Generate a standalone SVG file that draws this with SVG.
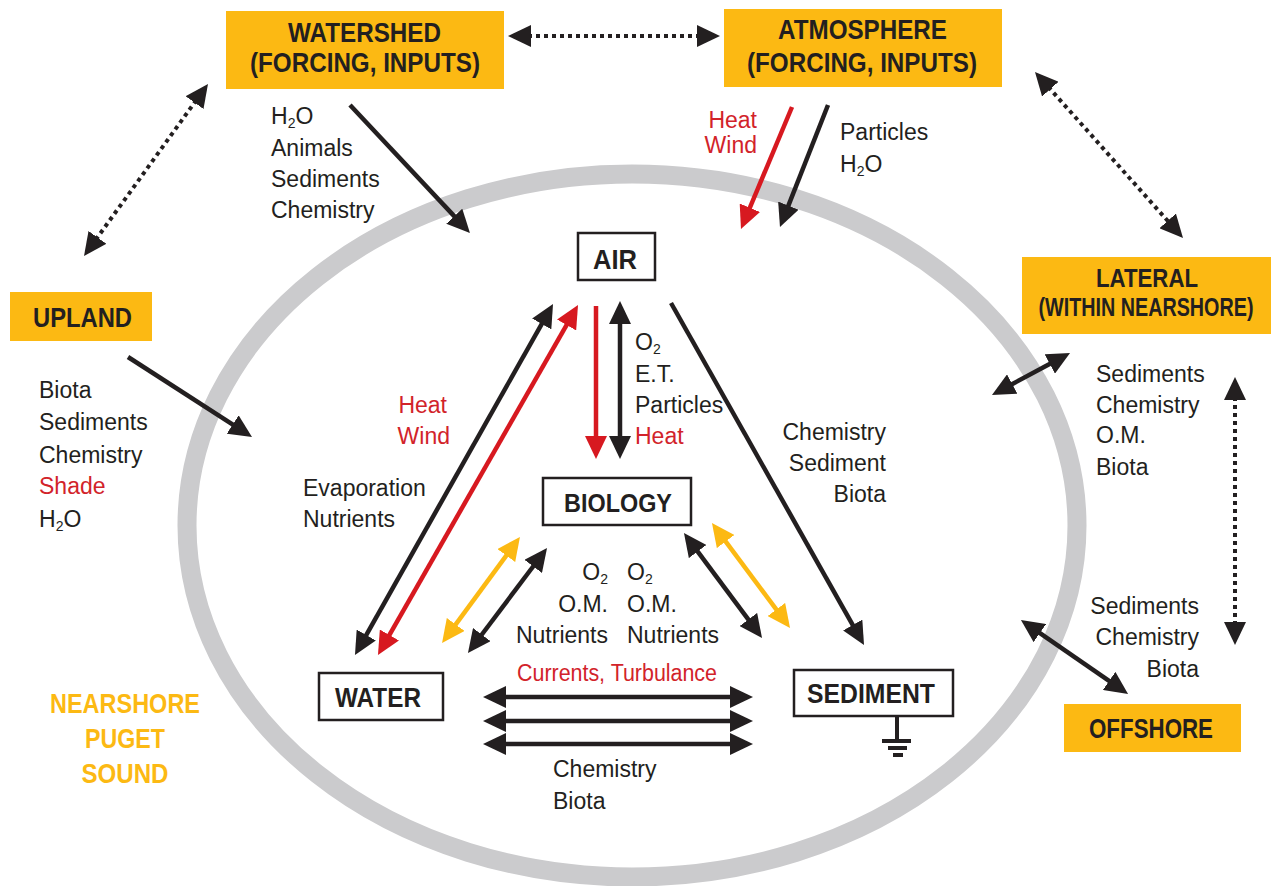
<svg xmlns="http://www.w3.org/2000/svg" width="1275" height="886" viewBox="0 0 1275 886">
<style>
.t{font-family:"Liberation Sans",Arial,sans-serif;font-size:23px;fill:#231f20}
.r{fill:#d2232a}
.hb{font-family:"Liberation Sans",Arial,sans-serif;font-weight:bold;fill:#231f20;text-anchor:start}
.ob{fill:#fcb913}
.wb{fill:#fff;stroke:#231f20;stroke-width:2.5}
.k{stroke:#231f20;stroke-width:4.5;fill:none}
.rd{stroke:#d71920;stroke-width:4.5;fill:none}
.y{stroke:#fcb913;stroke-width:4.5;fill:none}
.dot{stroke:#231f20;stroke-width:4;stroke-dasharray:4 4;fill:none}
.ns{font-family:"Liberation Sans",Arial,sans-serif;font-weight:bold;font-size:28px;fill:#fcb913}
</style>
<defs>
<marker id="hk" markerUnits="userSpaceOnUse" markerWidth="24" markerHeight="22" viewBox="0 0 24 22" refX="3" refY="11" orient="auto-start-reverse"><path d="M0,0 L23,11 L0,22 z" fill="#231f20"/></marker>
<marker id="hr" markerUnits="userSpaceOnUse" markerWidth="24" markerHeight="22" viewBox="0 0 24 22" refX="3" refY="11" orient="auto-start-reverse"><path d="M0,0 L23,11 L0,22 z" fill="#d71920"/></marker>
<marker id="hy" markerUnits="userSpaceOnUse" markerWidth="24" markerHeight="22" viewBox="0 0 24 22" refX="3" refY="11" orient="auto-start-reverse"><path d="M0,0 L23,11 L0,22 z" fill="#fcb913"/></marker>
</defs>
<rect width="1275" height="886" fill="#fff"/>
<ellipse id="boundary" cx="632" cy="525.5" rx="445" ry="351.5" fill="none" stroke="#cbcbcd" stroke-width="19"/>

<g id="connectors">
<line class="k" x1="350" y1="105" x2="456.3" y2="218.4" marker-end="url(#hk)"/>
<line class="rd" x1="792" y1="107" x2="748.7" y2="210.5" marker-end="url(#hr)"/>
<line class="k" x1="828" y1="105" x2="787.3" y2="208.4" marker-end="url(#hk)"/>
<line class="dot" x1="528" y1="36" x2="700" y2="36" marker-start="url(#hk)" marker-end="url(#hk)"/>
<line class="dot" x1="196.3" y1="100.2" x2="95.7" y2="239.8" marker-start="url(#hk)" marker-end="url(#hk)"/>
<line class="dot" x1="1048.3" y1="86.9" x2="1169.7" y2="223.1" marker-start="url(#hk)" marker-end="url(#hk)"/>
<line class="dot" x1="1235" y1="397" x2="1235" y2="625" marker-start="url(#hk)" marker-end="url(#hk)"/>
<line class="k" x1="1009.6" y1="385.5" x2="1052.4" y2="362.5" marker-start="url(#hk)" marker-end="url(#hk)"/>
<line class="k" x1="1037.4" y1="631.4" x2="1111.6" y2="682.6" marker-start="url(#hk)" marker-end="url(#hk)"/>
<line class="k" x1="128" y1="357" x2="235.2" y2="426.2" marker-end="url(#hk)"/>
<line class="rd" x1="596" y1="306" x2="596" y2="439" marker-end="url(#hr)"/>
<line class="k" x1="620" y1="321" x2="620" y2="439" marker-start="url(#hk)" marker-end="url(#hk)"/>
<line class="k" x1="364.8" y1="637.6" x2="543.2" y2="321.4" marker-start="url(#hk)" marker-end="url(#hk)"/>
<line class="rd" x1="387.9" y1="637.6" x2="568.1" y2="322.4" marker-start="url(#hr)" marker-end="url(#hr)"/>
<line class="k" x1="671" y1="303" x2="854.2" y2="627.6" marker-end="url(#hk)"/>
<line class="y" x1="453.9" y1="626.9" x2="508.1" y2="553.1" marker-start="url(#hy)" marker-end="url(#hy)"/>
<line class="k" x1="480" y1="637" x2="535" y2="564" marker-start="url(#hk)" marker-end="url(#hk)"/>
<line class="k" x1="695.9" y1="549.1" x2="750.1" y2="621.9" marker-start="url(#hk)" marker-end="url(#hk)"/>
<line class="y" x1="723.9" y1="539.1" x2="778.1" y2="611.9" marker-start="url(#hy)" marker-end="url(#hy)"/>
<line class="k" x1="503" y1="697" x2="733" y2="697" marker-start="url(#hk)" marker-end="url(#hk)"/>
<line class="k" x1="503" y1="721" x2="733" y2="721" marker-start="url(#hk)" marker-end="url(#hk)"/>
<line class="k" x1="503" y1="744" x2="733" y2="744" marker-start="url(#hk)" marker-end="url(#hk)"/>
</g>

<g id="watershed">
<rect class="ob" x="226" y="11" width="278" height="78"/>
<text class="hb" x="288" y="42" font-size="28" textLength="153" lengthAdjust="spacingAndGlyphs">WATERSHED</text>
<text class="hb" x="250" y="72" font-size="28" textLength="230" lengthAdjust="spacingAndGlyphs">(FORCING, INPUTS)</text>
</g>
<g id="atmosphere">
<rect class="ob" x="724" y="9" width="278" height="78"/>
<text class="hb" x="778" y="39" font-size="28" textLength="169" lengthAdjust="spacingAndGlyphs">ATMOSPHERE</text>
<text class="hb" x="747" y="72" font-size="28" textLength="230" lengthAdjust="spacingAndGlyphs">(FORCING, INPUTS)</text>
</g>
<g id="lateral">
<rect class="ob" x="1022" y="257" width="249" height="77"/>
<text class="hb" x="1096" y="287" font-size="26" textLength="102" lengthAdjust="spacingAndGlyphs">LATERAL</text>
<text class="hb" x="1146" y="316" font-size="25" style="text-anchor:middle" transform="translate(1146 0) scale(0.79 1) translate(-1146 0)">(WITHIN NEARSHORE)</text>
</g>
<g id="upland">
<rect class="ob" x="10" y="292" width="142" height="49"/>
<text class="hb" x="33" y="327" font-size="28" textLength="99" lengthAdjust="spacingAndGlyphs">UPLAND</text>
</g>
<g id="offshore">
<rect class="ob" x="1064" y="704" width="177" height="48"/>
<text class="hb" x="1089" y="738" font-size="28" textLength="124" lengthAdjust="spacingAndGlyphs">OFFSHORE</text>
</g>
<g id="air">
<rect class="wb" x="578" y="233" width="77" height="47"/>
<text class="hb" x="593" y="269" font-size="28" textLength="44" lengthAdjust="spacingAndGlyphs">AIR</text>
</g>
<g id="biology">
<rect class="wb" x="543" y="478" width="148" height="47"/>
<text class="hb" x="564" y="512" font-size="26" textLength="108" lengthAdjust="spacingAndGlyphs">BIOLOGY</text>
</g>
<g id="water">
<rect class="wb" x="319" y="673" width="124" height="47"/>
<text class="hb" x="335" y="707" font-size="27" textLength="86" lengthAdjust="spacingAndGlyphs">WATER</text>
</g>
<g id="sediment">
<rect class="wb" x="794" y="670" width="159" height="46"/>
<text class="hb" x="807" y="703" font-size="27" textLength="128" lengthAdjust="spacingAndGlyphs">SEDIMENT</text>
<line x1="897" y1="716" x2="897" y2="740" stroke="#231f20" stroke-width="4"/>
<rect x="882" y="739" width="29" height="4" fill="#231f20"/>
<rect x="888" y="746" width="19" height="4" fill="#231f20"/>
<rect x="893" y="753" width="10" height="4" fill="#231f20"/>
</g>

<g id="labels">
<text class="t" x="271" y="124">H<tspan font-size="14" dy="4">2</tspan><tspan dy="-4">O</tspan></text>
<text class="t" x="271" y="156">Animals</text>
<text class="t" x="271" y="187">Sediments</text>
<text class="t" x="271" y="218">Chemistry</text>

<text class="t r" x="757" y="128" text-anchor="end">Heat</text>
<text class="t r" x="757" y="153" text-anchor="end">Wind</text>
<text class="t" x="840" y="140">Particles</text>
<text class="t" x="840" y="172">H<tspan font-size="14" dy="4">2</tspan><tspan dy="-4">O</tspan></text>

<text class="t" x="1096" y="382">Sediments</text>
<text class="t" x="1096" y="413">Chemistry</text>
<text class="t" x="1096" y="443">O.M.</text>
<text class="t" x="1096" y="475">Biota</text>

<text class="t" x="39" y="398">Biota</text>
<text class="t" x="39" y="430">Sediments</text>
<text class="t" x="39" y="463">Chemistry</text>
<text class="t r" x="39" y="494">Shade</text>
<text class="t" x="39" y="527">H<tspan font-size="14" dy="4">2</tspan><tspan dy="-4">O</tspan></text>

<text class="t" x="1199" y="614" text-anchor="end">Sediments</text>
<text class="t" x="1199" y="645" text-anchor="end">Chemistry</text>
<text class="t" x="1199" y="677" text-anchor="end">Biota</text>

<text class="t" x="635" y="350">O<tspan font-size="14" dy="4">2</tspan></text>
<text class="t" x="635" y="382">E.T.</text>
<text class="t" x="635" y="413">Particles</text>
<text class="t r" x="635" y="444">Heat</text>

<text class="t r" x="447" y="413" text-anchor="end">Heat</text>
<text class="t r" x="450" y="444" text-anchor="end">Wind</text>
<text class="t" x="303" y="496">Evaporation</text>
<text class="t" x="303" y="527">Nutrients</text>

<text class="t" x="886" y="440" text-anchor="end">Chemistry</text>
<text class="t" x="886" y="471" text-anchor="end">Sediment</text>
<text class="t" x="886" y="502" text-anchor="end">Biota</text>

<text class="t" x="608" y="580" text-anchor="end">O<tspan font-size="14" dy="4">2</tspan></text>
<text class="t" x="608" y="612" text-anchor="end">O.M.</text>
<text class="t" x="608" y="643" text-anchor="end">Nutrients</text>
<text class="t" x="627" y="580">O<tspan font-size="14" dy="4">2</tspan></text>
<text class="t" x="627" y="612">O.M.</text>
<text class="t" x="627" y="643">Nutrients</text>

<text class="t r" x="517" y="681" textLength="200" lengthAdjust="spacingAndGlyphs">Currents, Turbulance</text>
<text class="t" x="553" y="777">Chemistry</text>
<text class="t" x="553" y="809">Biota</text>

<text class="ns" x="125" y="713" text-anchor="middle" textLength="150" lengthAdjust="spacingAndGlyphs">NEARSHORE</text>
<text class="ns" x="125" y="748" text-anchor="middle" textLength="80" lengthAdjust="spacingAndGlyphs">PUGET</text>
<text class="ns" x="125" y="783" text-anchor="middle" textLength="87" lengthAdjust="spacingAndGlyphs">SOUND</text>
</g>
</svg>
